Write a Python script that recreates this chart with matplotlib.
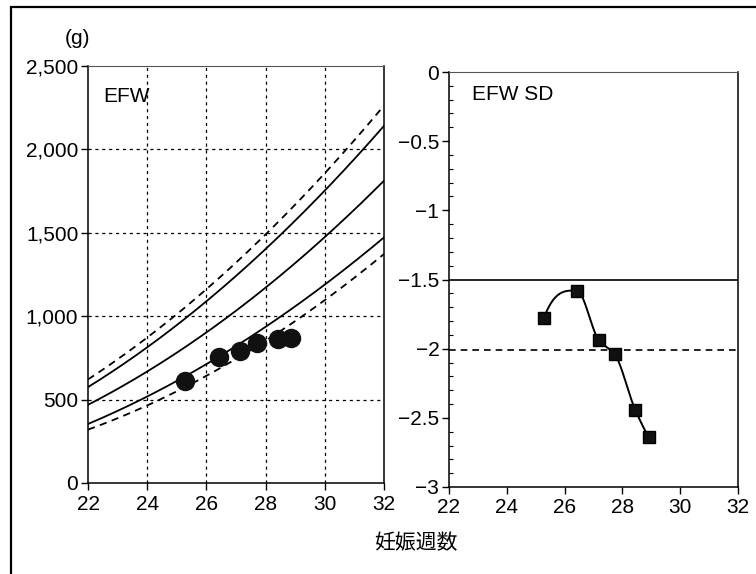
import numpy as np
import matplotlib
matplotlib.use("Agg")
import matplotlib.pyplot as plt
from matplotlib.patches import Rectangle
from matplotlib.ticker import FixedLocator, FuncFormatter, MultipleLocator

plt.rcParams['font.family'] = ['Liberation Sans', 'Noto Sans CJK JP', 'DejaVu Sans']

# ---- data ----
ref_weeks = [22, 24, 26, 28, 30, 32]
efw_p2 = [635, 855, 1145, 1500, 1885, 2245]     # +2.0 SD (dashed)
efw_p15 = [580, 805, 1090, 1400, 1765, 2135]    # +1.5 SD
efw_mean = [478, 655, 900, 1168, 1497, 1800]    # mean
efw_m15 = [362, 502, 718, 937, 1197, 1467]      # -1.5 SD
efw_m2 = [324, 457, 647, 847, 1107, 1368]       # -2.0 SD (dashed)

obs_weeks = [25.28, 26.42, 27.14, 27.70, 28.43, 28.85]
obs_efw = [613, 757, 791, 841, 861, 869]

sd_weeks = [25.28, 26.42, 27.19, 27.73, 28.44, 28.91]
sd_vals = [-1.78, -1.58, -1.94, -2.04, -2.44, -2.64]

sd_solid_ref = -1.5
sd_dash_ref = -2.01

x_ticks = [22, 24, 26, 28, 30, 32]
efw_ticks = [0, 500, 1000, 1500, 2000, 2500]
sd_ticks = [0, -0.5, -1, -1.5, -2, -2.5, -3]

FS = 15


def smooth_curve(x, y, n=200):
    """Smooth least-squares quadratic through the reference points."""
    coef = np.polyfit(x, y, 2)
    xs = np.linspace(min(x), max(x), n)
    return xs, np.polyval(coef, xs)


def pchip(x, y, n=300):
    x = np.asarray(x, float)
    y = np.asarray(y, float)
    h = np.diff(x)
    d = np.diff(y) / h
    m = np.zeros_like(y)
    for k in range(1, len(x) - 1):
        if d[k - 1] * d[k] <= 0:
            m[k] = 0.0
        else:
            w1 = 2 * h[k] + h[k - 1]
            w2 = h[k] + 2 * h[k - 1]
            m[k] = (w1 + w2) / (w1 / d[k - 1] + w2 / d[k])
    m[0] = ((2 * h[0] + h[1]) * d[0] - h[0] * d[1]) / (h[0] + h[1])
    if np.sign(m[0]) != np.sign(d[0]):
        m[0] = 0
    m[-1] = ((2 * h[-1] + h[-2]) * d[-1] - h[-1] * d[-2]) / (h[-1] + h[-2])
    if np.sign(m[-1]) != np.sign(d[-1]):
        m[-1] = 0
    xs = np.linspace(x[0], x[-1], n)
    ys = np.empty_like(xs)
    for j, xv in enumerate(xs):
        i = int(np.clip(np.searchsorted(x, xv, side='right') - 1, 0, len(x) - 2))
        t = (xv - x[i]) / h[i]
        h00 = 2 * t**3 - 3 * t**2 + 1
        h10 = t**3 - 2 * t**2 + t
        h01 = -2 * t**3 + 3 * t**2
        h11 = t**3 - t**2
        ys[j] = h00 * y[i] + h10 * h[i] * m[i] + h01 * y[i + 1] + h11 * h[i] * m[i + 1]
    return xs, ys


fig = plt.figure(figsize=(7.56, 5.74), dpi=100)

# outer frame (only top & left edges visible)
fig.add_artist(Rectangle((11 / 756, -0.2), 1.2, 1.2 - 7 / 574,
                         transform=fig.transFigure, fill=False,
                         lw=1.6, edgecolor='black'))

ax1 = fig.add_axes([88 / 756, 1 - 483 / 574, 296 / 756, 417 / 574])
ax2 = fig.add_axes([449 / 756, 1 - 487 / 574, 289 / 756, 415 / 574])

# ---- left panel ----
ax1.set_xlim(22, 32)
ax1.set_ylim(0, 2500)
for xv in x_ticks[1:-1]:
    ax1.axvline(xv, color='black', lw=0.9, ls=(0, (2.5, 3)), zorder=1)
for yv in efw_ticks[1:-1]:
    ax1.axhline(yv, color='black', lw=0.9, ls=(0, (2.5, 3)), zorder=1)

for series, style in [(efw_p2, (0, (4, 3))), (efw_p15, '-'), (efw_mean, '-'),
                      (efw_m15, '-'), (efw_m2, (0, (4, 3)))]:
    xs, ys = smooth_curve(ref_weeks, series)
    ax1.plot(xs, ys, color='black', lw=1.3, ls=style, zorder=2)

ax1.plot(obs_weeks, obs_efw, 'o', color='#111111', ms=13, zorder=3)

ax1.xaxis.set_major_locator(FixedLocator(x_ticks))
ax1.yaxis.set_major_locator(FixedLocator(efw_ticks))
ax1.yaxis.set_major_formatter(FuncFormatter(lambda v, p: f"{int(v):,}"))
ax1.tick_params(axis='both', direction='out', length=5, width=1,
                labelsize=FS, pad=2)
ax1.tick_params(axis='x', pad=4)
ax1.text(0.05, 0.926, 'EFW', transform=ax1.transAxes, fontsize=FS,
         va='center', ha='left')
fig.text(77 / 756, 1 - 39 / 574, '(g)', fontsize=FS, ha='center', va='center')

# ---- right panel ----
ax2.set_xlim(22, 32)
ax2.set_ylim(-3, 0)
ax2.axhline(sd_solid_ref, color='black', lw=1.2, zorder=1)
ax2.axhline(sd_dash_ref, color='black', lw=1.2, ls=(0, (4, 3)), zorder=1)
xs, ys = pchip(sd_weeks, sd_vals)
ax2.plot(xs, ys, color='black', lw=1.4, zorder=2)
ax2.plot(sd_weeks, sd_vals, 's', color='#111111', ms=8.5, mec='black', zorder=3)

ax2.xaxis.set_major_locator(FixedLocator(x_ticks))
ax2.yaxis.set_major_locator(FixedLocator(sd_ticks))
ax2.yaxis.set_minor_locator(MultipleLocator(0.1))
ax2.yaxis.set_major_formatter(FuncFormatter(
    lambda v, p: '0' if v == 0 else ('\u2212' + f"{abs(v):g}")))
ax2.tick_params(axis='both', which='major', direction='out', length=5,
                width=1, labelsize=FS, pad=2)
ax2.tick_params(axis='x', which='major', pad=3)
ax2.tick_params(axis='y', which='minor', direction='in', length=3, width=0.8)
ax2.text(0.079, 0.945, 'EFW SD', transform=ax2.transAxes, fontsize=FS,
         va='center', ha='left')

for ax in (ax1, ax2):
    for s in ax.spines.values():
        s.set_linewidth(1.1)
        s.set_color('black')
    ax.spines['top'].set_color('#555555')
    ax.spines['top'].set_linewidth(0.8)

fig.text(416 / 756, 1 - 543 / 574, '妊娠週数', fontsize=FS, ha='center',
         va='center', family=['Noto Sans CJK JP', 'DejaVu Sans'])

fig.savefig('out.png', dpi=100)
